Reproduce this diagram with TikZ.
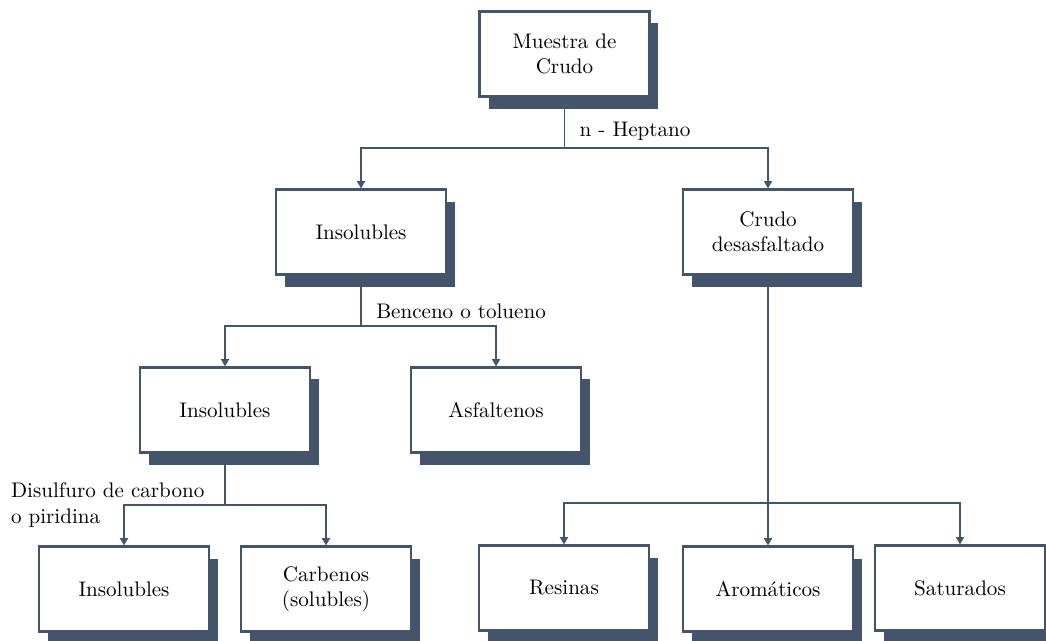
\documentclass[tikz,border=0pt]{standalone}
\usepackage{tikz}
\usetikzlibrary{arrows.meta, positioning, shadows}
\definecolor{pizarra}{HTML}{44546A}
\tikzset{
  caja/.style={
    rectangle, minimum width=2.833cm, minimum height=1.417cm,
    text centered, align=center, draw=pizarra, line width=1pt, fill=white,
    drop shadow={shadow xshift=0.15cm, shadow yshift=-0.2cm,
                 fill=pizarra, opacity=1}
  },
  linea/.style={draw=pizarra, line width=0.85pt},
  flecha/.style={-{Triangle[length=3.5pt,width=3.8pt]}, draw=pizarra, line width=0.85pt},
  etiq/.style={inner sep=0.117cm},
}
\begin{document}
\begin{tikzpicture}
      \useasboundingbox (0,0) rectangle (17.433,-10.667);

      \node[caja](muestra) at (9.408,-0.9)   {Muestra de\\Crudo};

      \node[caja](ins1)    at (6.017,-3.867) {Insolubles};
      \node[caja](crudo)   at (12.8,-3.867)  {Crudo\\desasfaltado};

      \node[caja](ins2)    at (3.75,-6.833)  {Insolubles};
      \node[caja](asf)     at (8.267,-6.833) {Asfaltenos};

      \node[caja](ins3)    at (2.067,-9.817) {Insolubles};
      \node[caja](carb)    at (5.433,-9.817) {Carbenos\\(solubles)};

      \node[caja](res)     at (9.4,-9.8)     {Resinas};
      \node[caja](aro)     at (12.8,-9.817)  {Arom\'aticos};
      \node[caja](sat)     at (16.0,-9.8)    {Saturados};

      % puntos de reparto
      \coordinate (j1) at (9.408,-2.467);
      \coordinate (j2) at (6.017,-5.433);
      \coordinate (j3) at (3.75,-8.417);
      \coordinate (j4) at (12.8,-8.383);

      \draw[linea]  (muestra.south) -- (j1);
      \draw[flecha] (j1) -| (ins1);
      \draw[flecha] (j1) -| (crudo);
      \node[etiq, anchor=south west, xshift=0.13cm] (nhep) at (j1) {n - Heptano};

      \draw[linea]  (ins1.south) -- (j2);
      \draw[flecha] (j2) -| (ins2);
      \draw[flecha] (j2) -| (asf);
      \node[etiq, anchor=south west, xshift=0.13cm] (benc) at (j2) {Benceno o tolueno};

      \draw[linea]  (ins2.south) -- (j3);
      \draw[flecha] (j3) -| (ins3);
      \draw[flecha] (j3) -| (carb);
      \node[etiq, align=left, left=0.22cm of j3] (disu) {Disulfuro de carbono\\o piridina};

      \draw[flecha] (crudo.south) -- (aro);
      \draw[flecha] (j4) -| (res);
      \draw[flecha] (j4) -| (sat);
\end{tikzpicture}
\end{document}
